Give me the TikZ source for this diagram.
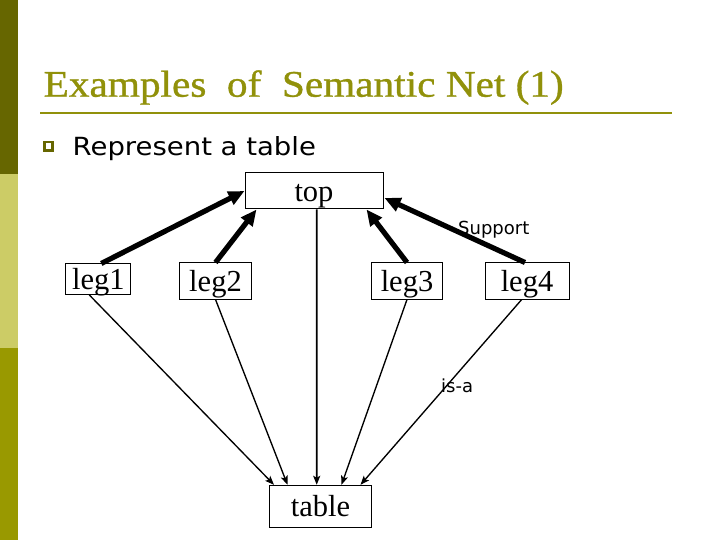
\documentclass[tikz,border=0pt]{standalone}
\usepackage{fontspec}
\setmainfont{Liberation Serif}
\newfontfamily\titlefont[FakeStretch=1.1,FakeBold=0.9]{Liberation Serif}
\newfontfamily\dvsans{DejaVu Sans}
\newfontfamily\dvsanswide[FakeStretch=1.1]{DejaVu Sans}
\usetikzlibrary{arrows.meta}
\definecolor{olivedark}{RGB}{102,102,0}
\definecolor{olivelight}{RGB}{204,204,102}
\definecolor{olivemid}{RGB}{153,153,0}
\definecolor{titleolive}{RGB}{145,145,10}
\begin{document}
\begin{tikzpicture}[x=1bp,y=-1bp,
  netbox/.style={draw=black, line width=1bp, inner sep=0pt,
    font=\fontsize{30.5bp}{36bp}\selectfont, text height=24bp, text depth=3bp},
  supportarrow/.style={-{Triangle[length=16bp,width=14bp]}, line width=5.2bp},
  isaarrow/.style={-{Stealth[length=9bp,width=7bp,inset=2bp]}, line width=1.35bp},
  lbl/.style={font=\dvsans\fontsize{18bp}{22bp}\selectfont, inner sep=0pt, anchor=base west}]
\useasboundingbox (0,0) rectangle (720,540);
\fill[white] (0,0) rectangle (720,540);
% left bar
\fill[olivedark] (0,0) rectangle (18,174);
\fill[olivelight] (0,174) rectangle (18,348);
\fill[olivemid] (0,348) rectangle (18,540);
% title
\node[anchor=base west, inner sep=0pt, text=titleolive,
  font=\titlefont\fontsize{37.5bp}{44bp}\selectfont] (title) at (43.5,96.7)
  {Examples\ \ of\ \ Semantic Net (1)};
\draw[titleolive, line width=2.4bp] (40,113.3) -- (672,113.3);
% bullet
\draw[olivedark, line width=2.4bp] (44.5,141.9) rectangle (52.3,150.5);
\node[anchor=base west, inner sep=0pt, font=\dvsanswide\fontsize{25bp}{30bp}\selectfont]
  (bullet) at (72.5,156) {Represent a table};
% nodes
\node[netbox, minimum width=138bp, minimum height=36bp] (top) at (314,191) {top};
\node[netbox, minimum width=65bp, minimum height=30.5bp] (leg1) at (98.3,279.2) {leg1};
\node[netbox, minimum width=72bp, minimum height=36bp] (leg2) at (215.5,281) {leg2};
\node[netbox, minimum width=71bp, minimum height=36bp] (leg3) at (407,281) {leg3};
\node[netbox, minimum width=84bp, minimum height=36bp] (leg4) at (527,281) {leg4};
\node[netbox, minimum width=102bp, minimum height=42bp] (table) at (320.5,506.3) {table};
% support arrows
\draw[supportarrow] ([xshift=3bp]leg1.north) -- (top.west);
\draw[supportarrow] (leg2.north) -- ([xshift=12bp]top.south west);
\draw[supportarrow] (leg3.north) -- ([xshift=-17bp]top.south east);
\draw[supportarrow] ([xshift=-2bp]leg4.north) -- ([xshift=1bp,yshift=-7bp]top.east);
% is-a arrows
\draw[isaarrow] ([xshift=-9bp]leg1.south) -- ([xshift=-46.5bp]table.north);
\draw[isaarrow] (leg2.south) -- ([xshift=-33bp]table.north);
\draw[isaarrow, line width=1.9bp] ([xshift=2.7bp]top.south) -- ([xshift=-3.8bp]table.north);
\draw[isaarrow] (leg3.south) -- ([xshift=21bp]table.north);
\draw[isaarrow] ([xshift=-5.3bp]leg4.south) -- ([xshift=40bp]table.north);
% labels
\node[lbl] (supportlbl) at (458,235) {Support};
\node[lbl] (isalbl) at (441,392) {is-a};
\end{tikzpicture}
\end{document}
